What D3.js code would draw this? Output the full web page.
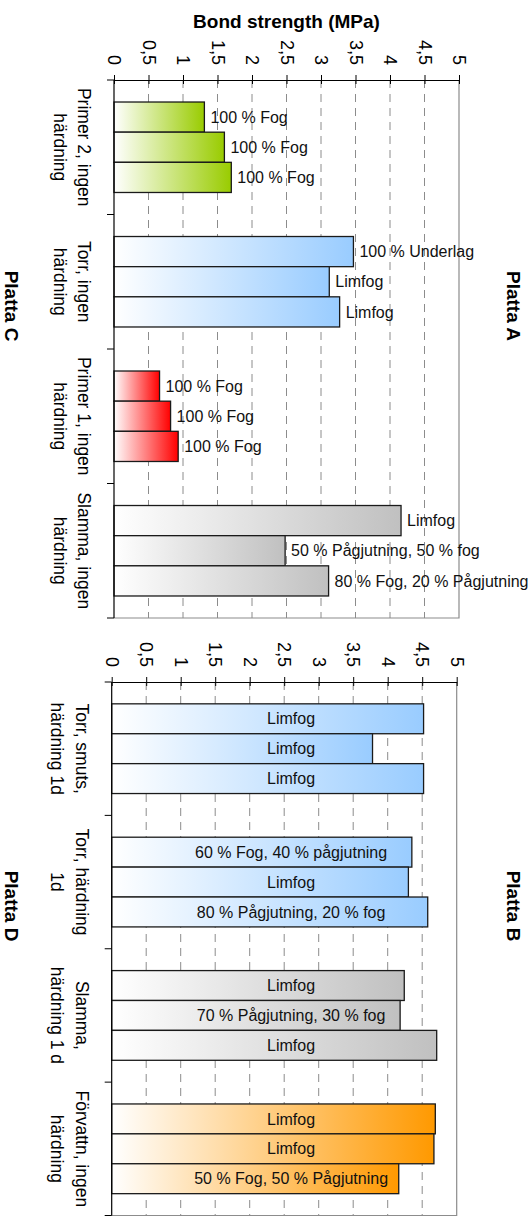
<!DOCTYPE html>
<html>
<head>
<meta charset="utf-8">
<script src="https://cdn.jsdelivr.net/npm/d3@7"></script>
<style>
  body { margin: 0; background: #fff; }
  svg { display: block; font-family: "Liberation Sans", Arial, sans-serif; }
</style>
</head>
<body>
<svg id="chart" width="532" height="1219"></svg>
<script>
// value axis, shared by both panels
var ticks = [0, 0.5, 1, 1.5, 2, 2.5, 3, 3.5, 4, 4.5, 5];
var tickLabels = ['0', '0,5', '1', '1,5', '2', '2,5', '3', '3,5', '4', '4,5', '5'];

// Platta A / C
var categoriesAC = [
  ['Primer 2, ingen', 'härdning'],
  ['Torr, ingen', 'härdning'],
  ['Primer 1, ingen', 'härdning'],
  ['Slamma, ingen', 'härdning']
];
var valuesAC = [
  [1.31, 1.60, 1.70],
  [3.47, 3.12, 3.27],
  [0.66, 0.82, 0.93],
  [4.16, 2.48, 3.11]
];
var labelsAC = [
  ['100 % Fog', '100 % Fog', '100 % Fog'],
  ['100 % Underlag', 'Limfog', 'Limfog'],
  ['100 % Fog', '100 % Fog', '100 % Fog'],
  ['Limfog', '50 % Pågjutning, 50 % fog', '80 % Fog, 20 % Pågjutning']
];
var colorsAC = ['#99cc00', '#99ccff', '#ff0000', '#c0c0c0'];

// Platta B / D
var categoriesBD = [
  ['Torr, smuts,', 'härdning 1d'],
  ['Torr, härdning', '1d'],
  ['Slamma,', 'härdning 1 d'],
  ['Förvattn, ingen', 'härdning']
];
var valuesBD = [
  [4.52, 3.78, 4.52],
  [4.35, 4.30, 4.58],
  [4.24, 4.18, 4.71],
  [4.69, 4.67, 4.16]
];
var labelsBD = [
  ['Limfog', 'Limfog', 'Limfog'],
  ['60 % Fog, 40 % pågjutning', 'Limfog', '80 % Pågjutning, 20 % fog'],
  ['Limfog', '70 % Pågjutning, 30 % fog', 'Limfog'],
  ['Limfog', 'Limfog', '50 % Fog, 50 % Pågjutning']
];
var colorsBD = ['#99ccff', '#99ccff', '#c0c0c0', '#ff9900'];

var svg = d3.select('#chart');
var defs = svg.append('defs');

// one white -> colour gradient per colour
var allColors = Array.from(new Set(colorsAC.concat(colorsBD)));
var grad = defs.selectAll('linearGradient')
  .data(allColors)
  .enter()
  .append('linearGradient')
  .attr('id', function (c) { return 'g' + c.slice(1); })
  .attr('x1', 0).attr('x2', 1).attr('y1', 0).attr('y2', 0);
grad.append('stop').attr('offset', 0).attr('stop-color', '#ffffff');
grad.append('stop').attr('offset', 1).attr('stop-color', function (c) { return c; });

function drawPanel (opts) {
  var g = svg.append('g');

  var x = d3.scaleLinear().domain([0, 5]).range([opts.left, opts.right]);
  var y0 = d3.scaleBand()
    .domain(d3.range(opts.categories.length))
    .range([opts.top, opts.bottom]);
  var y1 = d3.scaleBand()
    .domain([0, 1, 2])
    .range([0, y0.bandwidth()])
    .paddingOuter(0.73);

  // right and bottom frame
  g.append('path')
    .attr('d', 'M' + x(5) + ',' + opts.top + 'V' + opts.bottom + 'H' + x(0))
    .attr('fill', 'none')
    .attr('stroke', '#8c8c8c')
    .attr('stroke-width', 1.2);

  // dashed gridlines
  g.selectAll('.grid')
    .data(ticks.filter(function (t) { return t > 0 && t < 5; }))
    .enter()
    .append('line')
    .attr('class', 'grid')
    .attr('x1', x).attr('x2', x)
    .attr('y1', opts.top).attr('y2', opts.bottom)
    .attr('stroke', '#8c8c8c')
    .attr('stroke-dasharray', '8,6');

  // bars
  var cat = g.selectAll('.cat')
    .data(opts.values)
    .enter()
    .append('g')
    .attr('class', 'cat')
    .attr('transform', function (d, i) { return 'translate(0,' + y0(i) + ')'; });

  cat.selectAll('rect')
    .data(function (d, i) { return d.map(function (v) { return { v: v, c: i }; }); })
    .enter()
    .append('rect')
    .attr('x', x(0))
    .attr('y', function (d, j) { return y1(j); })
    .attr('width', function (d) { return x(d.v) - x(0); })
    .attr('height', y1.bandwidth())
    .attr('fill', function (d) { return 'url(#g' + opts.colors[d.c].slice(1) + ')'; })
    .attr('stroke', '#1a1a1a')
    .attr('stroke-width', 1.3);

  cat.selectAll('.lbl')
    .data(function (d, i) {
      return d.map(function (v, j) { return { v: v, t: opts.labels[i][j] }; });
    })
    .enter()
    .append('text')
    .attr('class', 'lbl')
    .attr('x', function (d) {
      return opts.inside ? x(opts.labelAt) : x(d.v) + 6;
    })
    .attr('y', function (d, j) { return y1(j) + y1.bandwidth() / 2; })
    .attr('dy', '0.35em')
    .attr('text-anchor', opts.inside ? 'middle' : 'start')
    .attr('font-size', 16)
    .attr('fill', '#111')
    .text(function (d) { return d.t; });

  // value axis along the top, ticks crossing the line
  var axis = g.append('g')
    .attr('transform', 'translate(0,' + opts.top + ')')
    .call(d3.axisTop(x)
      .tickValues(ticks)
      .tickFormat(function (d, i) { return tickLabels[i]; })
      .tickSizeInner(5)
      .tickSizeOuter(0));
  axis.select('.domain').attr('stroke', '#000').attr('stroke-width', 1.2);
  axis.selectAll('.tick line').attr('y2', -5).attr('y1', 4).attr('stroke', '#000');
  axis.selectAll('.tick text')
    .attr('x', 0)
    .attr('y', 0)
    .attr('dy', '0.35em')
    .attr('transform', 'translate(0,-15) rotate(90)')
    .attr('text-anchor', 'end')
    .attr('font-size', 18)
    .attr('font-family', '"Liberation Sans", Arial, sans-serif')
    .attr('fill', '#000');

  // category axis on the left, ticks between categories
  g.append('line')
    .attr('x1', x(0)).attr('x2', x(0))
    .attr('y1', opts.top).attr('y2', opts.bottom)
    .attr('stroke', '#000')
    .attr('stroke-width', 1.2);

  var bounds = y0.domain().map(function (i) { return y0(i); }).concat([y0.range()[1]]);
  g.selectAll('.ctick')
    .data(bounds)
    .enter()
    .append('line')
    .attr('class', 'ctick')
    .attr('x1', x(0) - 7).attr('x2', x(0))
    .attr('y1', function (d) { return d; }).attr('y2', function (d) { return d; })
    .attr('stroke', '#000');

  var clabel = g.selectAll('.clabel')
    .data(opts.categories)
    .enter()
    .append('text')
    .attr('class', 'clabel')
    .attr('transform', function (d, i) {
      return 'translate(' + (x(0) - 36) + ',' + (y0(i) + y0.bandwidth() / 2) + ') rotate(90)';
    })
    .attr('text-anchor', 'middle')
    .attr('font-size', 17.5)
    .attr('fill', '#000');

  clabel.selectAll('tspan')
    .data(function (d) { return d; })
    .enter()
    .append('tspan')
    .attr('x', 0)
    .attr('dy', function (d, k) { return k ? '1.4em' : 0; })
    .text(function (d) { return d; });

  // panel names, turned like the rest of the chart
  [[opts.rightName, 507], [opts.leftName, 5]].forEach(function (p) {
    g.append('text')
      .attr('transform', 'translate(' + p[1] + ',' + opts.nameY + ') rotate(90)')
      .attr('text-anchor', 'middle')
      .attr('font-size', 19)
      .attr('font-weight', 'bold')
      .text(p[0]);
  });
}

drawPanel({
  categories: categoriesAC,
  values: valuesAC,
  labels: labelsAC,
  colors: colorsAC,
  top: 80, bottom: 618, left: 114, right: 459,
  inside: false,
  rightName: 'Platta A', leftName: 'Platta C', nameY: 306
});

drawPanel({
  categories: categoriesBD,
  values: valuesBD,
  labels: labelsBD,
  colors: colorsBD,
  top: 682, bottom: 1215.5, left: 111.7, right: 456.7,
  inside: true, labelAt: 2.6,
  rightName: 'Platta B', leftName: 'Platta D', nameY: 906
});

svg.append('text')
  .attr('x', (114 + 459) / 2)
  .attr('y', 28)
  .attr('text-anchor', 'middle')
  .attr('font-size', 19)
  .attr('font-weight', 'bold')
  .text('Bond strength (MPa)');
</script>
</body>
</html>
